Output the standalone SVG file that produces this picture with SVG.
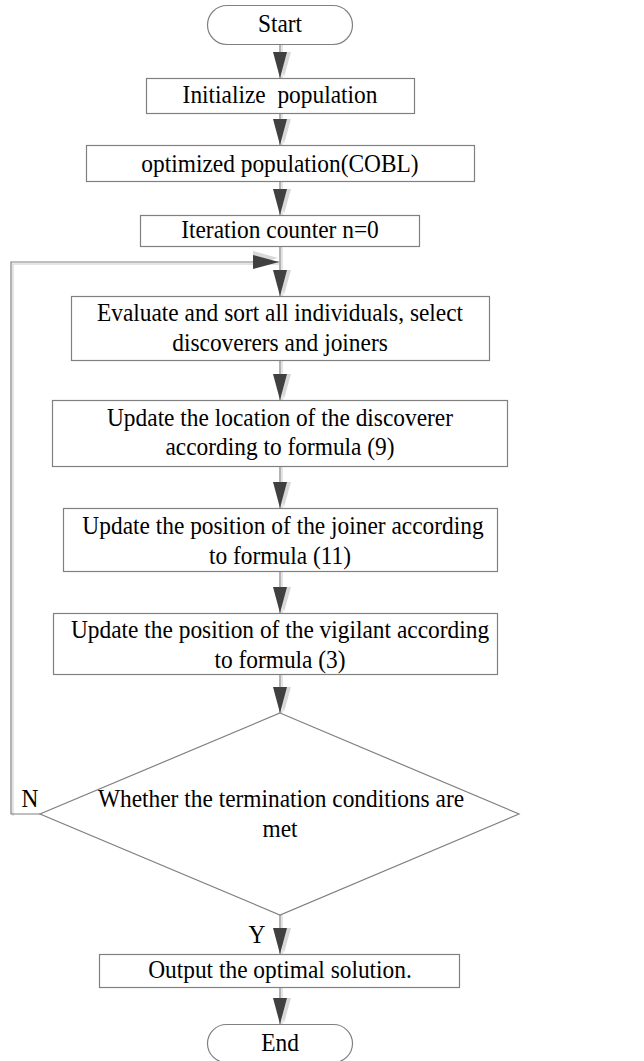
<svg xmlns="http://www.w3.org/2000/svg" xmlns:xlink="http://www.w3.org/1999/xlink" width="644" height="1061" viewBox="0 0 644 1061">
<style>
.box{fill:#fff;stroke:#808080;stroke-width:1.2}
.t{font-family:"Liberation Serif","Times New Roman",serif;font-size:23.4px;fill:#000;text-anchor:middle}
.ln{fill:none;stroke:#808080;stroke-width:1.2}
.sh{fill:none;stroke:#dcdcdc;stroke-width:1.5}
</style>
<defs>
<g id="ah">
<polygon points="4,-1 -3,-26 11,-26" fill="#d8d8d8"/>
<polygon points="0,0 -7,-26 7,-26" fill="#404040"/>
</g>
</defs>
<rect width="644" height="1061" fill="#fff"/>
<g id="connectors">
<path class="sh" d="M282,44V78 M282,113V145 M282,181V215 M282,246V296 M282,360V400 M282,466V508 M282,571V613 M282,674V713 M282,915V954 M282,987V1024 M13,816V264H279"/>
<path class="ln" d="M280,44V78 M280,113V145 M280,181V215 M280,246V296 M280,360V400 M280,466V508 M280,571V613 M280,674V713 M280,915V954 M280,987V1024 M40,814H11V262H279"/>
<use xlink:href="#ah" x="280" y="78"/>
<use xlink:href="#ah" x="280" y="145"/>
<use xlink:href="#ah" x="280" y="215"/>
<use xlink:href="#ah" x="280" y="296"/>
<use xlink:href="#ah" x="280" y="400"/>
<use xlink:href="#ah" x="280" y="508"/>
<use xlink:href="#ah" x="280" y="613"/>
<use xlink:href="#ah" x="280" y="713"/>
<use xlink:href="#ah" x="280" y="954"/>
<use xlink:href="#ah" x="280" y="1024"/>
<use xlink:href="#ah" transform="translate(279,262) rotate(-90)"/>
<text class="t" transform="matrix(1,0,0,1.1,30,807)">N</text>
<text class="t" transform="matrix(1,0,0,1.1,257,943)">Y</text>
</g>
<g id="start"><rect class="box" x="207.5" y="5.5" width="145" height="39" rx="19.5"/><text class="t" transform="matrix(1,0,0,1.1,280,32)">Start</text></g>
<g id="init"><rect class="box" x="146.5" y="78.5" width="268" height="35"/><text class="t" transform="matrix(1,0,0,1.1,280,103)" xml:space="preserve">Initialize  population</text></g>
<g id="opt"><rect class="box" x="86.5" y="145.5" width="388" height="36"/><text class="t" transform="matrix(1,0,0,1.1,280,172)">optimized population(COBL)</text></g>
<g id="iter"><rect class="box" x="140.5" y="215.5" width="279" height="31"/><text class="t" transform="matrix(1,0,0,1.1,280,238)">Iteration counter n=0</text></g>
<g id="evaluate"><rect class="box" x="71.5" y="296.5" width="418" height="64"/><text class="t" transform="matrix(1,0,0,1.1,280,321)">Evaluate and sort all individuals, select</text><text class="t" transform="matrix(1,0,0,1.1,280,351)">discoverers and joiners</text></g>
<g id="discoverer"><rect class="box" x="52.5" y="400.5" width="455" height="66"/><text class="t" transform="matrix(1,0,0,1.1,280,426)">Update the location of the discoverer</text><text class="t" transform="matrix(1,0,0,1.1,280,455)">according to formula (9)</text></g>
<g id="joiner"><rect class="box" x="63.5" y="508.5" width="434" height="63"/><text class="t" transform="matrix(1,0,0,1.1,283,534)">Update the position of the joiner according</text><text class="t" transform="matrix(1,0,0,1.1,280,564)">to formula (11)</text></g>
<g id="vigilant"><rect class="box" x="53.5" y="613.5" width="444" height="61"/><text class="t" transform="matrix(1,0,0,1.1,280,638)">Update the position of the vigilant according</text><text class="t" transform="matrix(1,0,0,1.1,280,668)">to formula (3)</text></g>
<g id="decision"><polygon class="box" points="280,713 519,814 280,915 40,814"/><text class="t" transform="matrix(1,0,0,1.1,281,807)">Whether the termination conditions are</text><text class="t" transform="matrix(1,0,0,1.1,280,837)">met</text></g>
<g id="output"><rect class="box" x="99.5" y="954.5" width="360" height="33"/><text class="t" transform="matrix(1,0,0,1.1,280,978)">Output the optimal solution.</text></g>
<g id="end"><rect class="box" x="207.5" y="1024.5" width="145" height="38" rx="19"/><text class="t" transform="matrix(1,0,0,1.1,280,1051)">End</text></g>
</svg>
